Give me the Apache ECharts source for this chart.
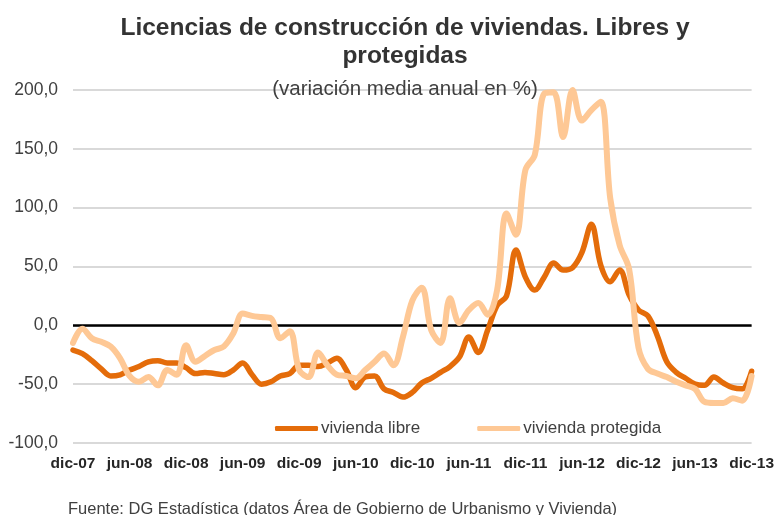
<!DOCTYPE html>
<html>
<head>
<meta charset="utf-8">
<script src="https://cdn.jsdelivr.net/npm/echarts@6/dist/echarts.min.js"></script>
<style>
  html, body { margin: 0; padding: 0; background: #fff; }
  #chart { width: 777px; height: 515px; }
</style>
</head>
<body>
<div id="chart"></div>
<script>
// meses dic-07 .. dic-13
const monthNames = ['ene', 'feb', 'mar', 'abr', 'may', 'jun', 'jul', 'ago', 'sep', 'oct', 'nov', 'dic']
const categories = []
for (let k = 0; k < 73; k++) {
  const m = (11 + k) % 12
  const y = 7 + Math.floor((11 + k) / 12)
  categories.push(monthNames[m] + '-' + String(y).padStart(2, '0'))
}

const seriesNames = ['vivienda libre', 'vivienda protegida']

const viviendaLibre = [
  -21, -24, -30, -37, -43, -42, -38, -35, -31, -30, -32, -32,
  -36, -41, -40, -41, -42, -38, -32, -42, -50, -48, -43, -41,
  -34, -34, -35, -32, -28, -38, -53, -44, -43, -54, -57, -61,
  -57, -49, -45, -40, -35, -27, -10, -23, -4, 17, 25, 64,
  41, 30, 41, 53, 47, 49, 62, 86, 51, 37, 47, 26,
  13, 8, -9, -31, -40, -45, -50, -51, -44, -49, -53, -54,
  -39
]

const viviendaProtegida = [
  -15, -3, -11, -14, -18, -28, -43, -48, -44, -51, -38, -42,
  -17, -31, -26, -21, -18, -7, 10, 8, 7, 6, -11, -5,
  -38, -44, -23, -34, -42, -43, -45, -38, -31, -24, -34, -10,
  21, 32, -4, -15, 23, 2, 13, 19, 9, 30, 95, 77,
  132, 145, 197, 198, 160, 200, 174, 183, 190, 108, 68, 48,
  -19, -37, -41, -44, -48, -51, -54, -65, -66, -66, -62, -64,
  -43
]

const yTicks = { min: -100, max: 200, interval: 50 }

const chart = echarts.init(document.getElementById('chart'))

const fontFamily = 'Liberation Sans, Arial, sans-serif'
const textColor = '#404040'

const option = {
  animation: false,
  title: [
    {
      text: 'Licencias de construcción de viviendas. Libres y\nprotegidas',
      left: 400,
      top: 9,
      textAlign: 'center',
      textStyle: {
        fontFamily: fontFamily,
        fontSize: 24.5,
        fontWeight: 'bold',
        lineHeight: 28,
        color: '#333',
      },
    },
    {
      text: '(variación media anual en %)',
      left: 400,
      top: 72,
      textAlign: 'center',
      textStyle: {
        fontFamily: fontFamily,
        fontSize: 20.5,
        fontWeight: 'normal',
        lineHeight: 24,
        color: textColor,
      },
    },
    {
      text: 'Fuente: DG Estadística (datos Área de Gobierno de Urbanismo y Vivienda)',
      left: 63,
      top: 494,
      textStyle: {
        fontFamily: fontFamily,
        fontSize: 16.5,
        fontWeight: 'normal',
        lineHeight: 20,
        color: textColor,
      },
    },
  ],
  legend: {
    data: seriesNames,
    left: 270,
    top: 415,
    itemWidth: 43,
    itemHeight: 5,
    itemGap: 57,
    icon: 'roundRect',
    textStyle: {
      fontFamily: fontFamily,
      fontSize: 17,
      color: textColor,
      padding: [0, 0, 0, -2],
    },
  },
  grid: {
    left: 73,
    right: 22,
    top: 90,
    bottom: 72,
    containLabel: false,
  },
  xAxis: {
    type: 'category',
    data: categories,
    boundaryGap: false,
    axisLine: { show: false },
    axisTick: { show: false },
    axisLabel: {
      interval: 5,
      margin: 13,
      fontFamily: fontFamily,
      fontSize: 15.5,
      fontWeight: 'bold',
      color: '#262626',
    },
    splitLine: { show: false },
  },
  yAxis: {
    type: 'value',
    min: yTicks.min,
    max: yTicks.max,
    interval: yTicks.interval,
    axisLine: { show: false },
    axisTick: { show: false },
    axisLabel: {
      margin: 15,
      fontFamily: fontFamily,
      fontSize: 17.5,
      color: textColor,
      formatter: (v) => v.toFixed(1).replace('.', ','),
    },
    splitLine: {
      lineStyle: { color: '#d9d9d9', width: 2 },
    },
  },
  series: [
    {
      name: seriesNames[0],
      type: 'line',
      data: viviendaLibre,
      smooth: 0.35,
      showSymbol: false,
      symbol: 'none',
      lineStyle: { color: '#e46c0a', width: 5.5, cap: 'round', join: 'round' },
      itemStyle: { color: '#e46c0a' },
      markLine: {
        silent: true,
        symbol: 'none',
        label: { show: false },
        lineStyle: { color: '#000', width: 2.5, type: 'solid' },
        data: [{ yAxis: 0 }],
        z: 1,
      },
      z: 3,
    },
    {
      name: seriesNames[1],
      type: 'line',
      data: viviendaProtegida,
      smooth: 0.35,
      showSymbol: false,
      symbol: 'none',
      lineStyle: { color: '#fec895', width: 6, cap: 'round', join: 'round' },
      itemStyle: { color: '#fec895' },
      z: 4,
    },
  ],
}

chart.setOption(option)
</script>
</body>
</html>
